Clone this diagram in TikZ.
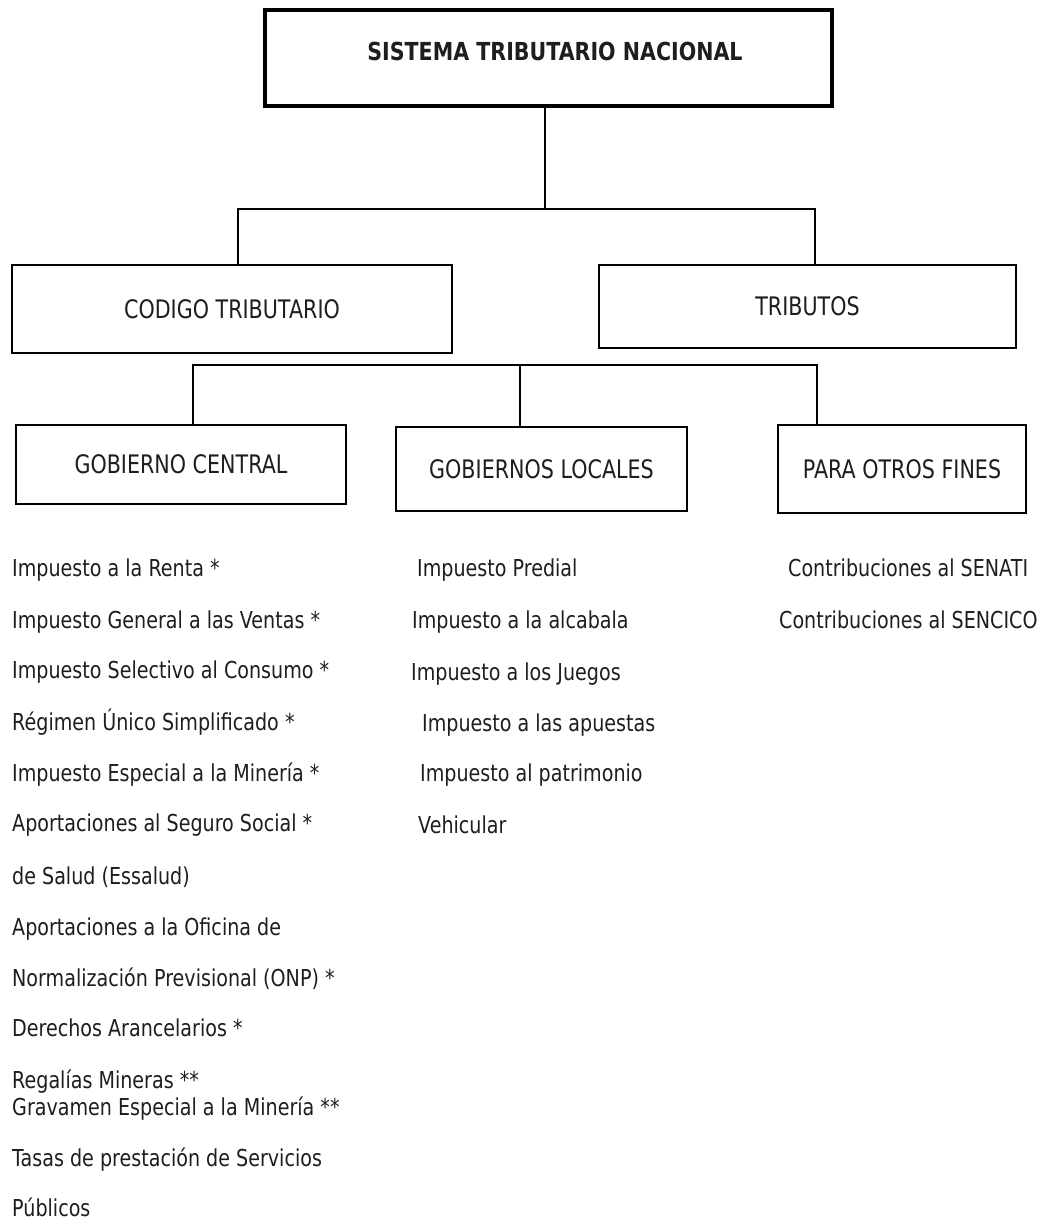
\documentclass[tikz,border=0pt]{standalone}
\usepackage{fontspec}
\newfontfamily\tah[FakeStretch=0.82]{DejaVu Sans}
\newfontfamily\tahbox[FakeStretch=0.81]{DejaVu Sans}
\newfontfamily\tahb[FakeStretch=0.83]{DejaVu Sans Bold}
\definecolor{ink}{HTML}{1E1E1E}
\begin{document}
\begin{tikzpicture}[x=1pt,y=-1pt,
  box/.style={draw=black,line width=2pt,rectangle,inner sep=0pt,text=ink,font=\tahbox\fontsize{25.5}{28}\selectfont},
  topbox/.style={draw=black,line width=4.5pt,rectangle,inner sep=0pt},
  item/.style={anchor=base west,inner sep=0pt,text=ink,font=\tah\fontsize{23.3}{26}\selectfont},
  conn/.style={draw=black,line width=2pt}]
\useasboundingbox[fill=white] (0,0) rectangle (1047,1220);

% boxes
\node[topbox,minimum width=567pt,minimum height=96pt] (top) at (548.5,58) {};
\node[inner sep=0pt,text=ink,font=\tahb\fontsize{24.8}{28}\selectfont] (title) at (555,51) {SISTEMA TRIBUTARIO NACIONAL};
\node[box,minimum width=440pt,minimum height=88pt] (codigo) at (232,309) {CODIGO TRIBUTARIO};
\node[box,minimum width=417pt,minimum height=83pt] (tributos) at (807.5,306.5) {TRIBUTOS};
\node[box,minimum width=330pt,minimum height=79pt] (gc) at (181,464.5) {GOBIERNO CENTRAL};
\node[box,minimum width=291pt,minimum height=84pt] (gl) at (541.5,469) {GOBIERNOS LOCALES};
\node[box,minimum width=248pt,minimum height=88pt] (pof) at (902,469) {PARA OTROS FINES};

% connectors
\coordinate (j1) at (545,209);
\coordinate (h1L) at (238,209);
\coordinate (h1R) at (815,209);
\draw[conn] (j1 |- top.south) -- (j1);
\draw[conn] (h1L |- codigo.north) -- (h1L) -- (h1R) -- (h1R |- tributos.north);
\coordinate (h2L) at (193,365);
\coordinate (h2M) at (520,365);
\coordinate (h2R) at (817,365);
\draw[conn] (h2L |- gc.north) -- (h2L) -- (h2R) -- (h2R |- pof.north);
\draw[conn] (h2M) -- (h2M |- gl.north);

% left list
\node[item] (c1) at (12,576) {Impuesto a la Renta *};
\node[item] (c2) at (12,628) {Impuesto General a las Ventas *};
\node[item] (c3) at (12,678) {Impuesto Selectivo al Consumo *};
\node[item] (c4) at (12,730) {Régimen Único Simplificado *};
\node[item] (c5) at (12,781) {Impuesto Especial a la Minería *};
\node[item] (c6) at (12,831) {Aportaciones al Seguro Social *};
\node[item] (c7) at (12,884) {de Salud (Essalud)};
\node[item] (c8) at (12,935) {Aportaciones a la Oficina de};
\node[item] (c9) at (12,986) {Normalización Previsional (ONP) *};
\node[item] (c10) at (12,1036) {Derechos Arancelarios *};
\node[item] (c11) at (12,1088) {Regalías Mineras **};
\node[item] (c12) at (12,1115) {Gravamen Especial a la Minería **};
\node[item] (c13) at (12,1166) {Tasas de prestación de Servicios};
\node[item] (c14) at (12,1216) {Públicos};

% middle list
\node[item] (l1) at (417,576) {Impuesto Predial};
\node[item] (l2) at (412,628) {Impuesto a la alcabala};
\node[item] (l3) at (411,680) {Impuesto a los Juegos};
\node[item] (l4) at (422,731) {Impuesto a las apuestas};
\node[item] (l5) at (420,781) {Impuesto al patrimonio};
\node[item] (l6) at (418,833) {Vehicular};

% right list
\node[item] (o1) at (788,576) {Contribuciones al SENATI};
\node[item] (o2) at (779,628) {Contribuciones al SENCICO};
\end{tikzpicture}
\end{document}
